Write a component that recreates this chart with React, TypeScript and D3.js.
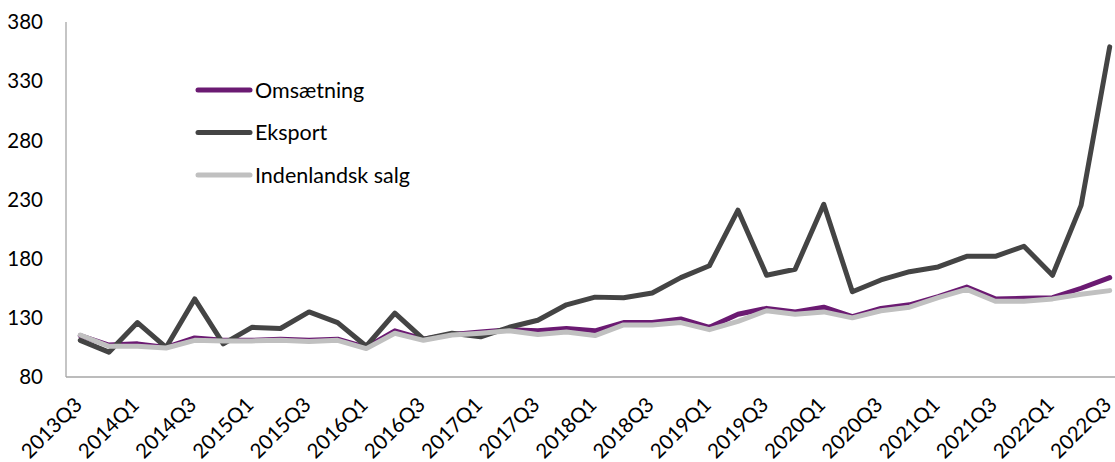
import React from "react";
import * as d3 from "d3";

const quarters: string[] = [
  "2013Q3","2013Q4","2014Q1","2014Q2","2014Q3","2014Q4","2015Q1","2015Q2","2015Q3","2015Q4",
  "2016Q1","2016Q2","2016Q3","2016Q4","2017Q1","2017Q2","2017Q3","2017Q4","2018Q1","2018Q2",
  "2018Q3","2018Q4","2019Q1","2019Q2","2019Q3","2019Q4","2020Q1","2020Q2","2020Q3","2020Q4",
  "2021Q1","2021Q2","2021Q3","2021Q4","2022Q1","2022Q2","2022Q3"
];

const omsaetning: number[] = [
  115,107,108,105,113,111,111,112,111,112,
  105,119,112,116,118,120,119,121,119,126,
  126,129,122,133,138,135,139,131,138,141,
  148,156,146,146.5,147,155,164
];

const eksport: number[] = [
  111,101,126,105,146,108,122,121,135,126,
  106,134,112,117,114,122,128,141,147.5,147,
  151,164,174,221,166,171,226,152,162,169,
  173,182,182,190.5,166,225,359
];

const indenlandsk: number[] = [
  115.5,106,106,104.5,111,110.5,110.5,111,110,111,
  104,117,111,115.5,117,119,116,118,115,124,
  124,126,120,127,136,133,135,130,136,139,
  147,154,144,144,146,150,153
];

const yTicks: number[] = [80, 130, 180, 230, 280, 330, 380];

const seriesNames: string[] = ["Omsætning", "Eksport", "Indenlandsk salg"];
const seriesColors: string[] = ["#6b1a72", "#444444", "#c0c0c0"];

export default function App() {
  const W = 1115, H = 462;
  const left = 66, right = 1124, top = 22, bottom = 377;
  const font = "Lato, 'Open Sans', sans-serif";

  const x = d3.scaleBand<string>().domain(quarters).range([left, right]);
  const cx = (q: string) => (x(q) as number) + x.bandwidth() / 2;
  const y = d3.scaleLinear().domain([80, 380]).range([bottom, top]);

  const line = d3.line<number>()
    .x((_, i) => cx(quarters[i]))
    .y((d) => y(d));

  const allSeries = [omsaetning, eksport, indenlandsk];
  const labelQuarters = quarters.filter((_, i) => i % 2 === 0);

  return (
    <svg width={W} height={H} style={{ position: "absolute", left: 0, top: 0, background: "#fff" }}>
      <line x1={left} x2={left} y1={top} y2={bottom} stroke="#a6a6a6" strokeWidth={1.3} />
      <line x1={left} x2={right} y1={bottom} y2={bottom} stroke="#a6a6a6" strokeWidth={1.3} />
      {yTicks.map((t) => (
        <text key={t} x={43} y={y(t)} dy="0.35em" textAnchor="end" fontFamily={font} fontSize={20.5} fill="#000">
          {t}
        </text>
      ))}
      {labelQuarters.map((q) => {
        const px = cx(q) + 3;
        const py = bottom + 29;
        return (
          <text key={q} x={px} y={py} textAnchor="end" fontFamily={font} fontSize={20.5} fill="#000"
            transform={`rotate(-45 ${px} ${py})`}>
            {q}
          </text>
        );
      })}
      {allSeries.map((s, k) => (
        <path key={k} d={line(s) || ""} fill="none" stroke={seriesColors[k]} strokeWidth={5}
          strokeLinejoin="round" strokeLinecap="round" />
      ))}
      {seriesNames.map((n, k) => {
        const ly = 90 + k * 42.5;
        return (
          <g key={n}>
            <line x1={198} x2={250} y1={ly} y2={ly} stroke={seriesColors[k]} strokeWidth={5} strokeLinecap="round" />
            <text x={255} y={ly} dy="0.35em" fontFamily={font} fontSize={21.5} fill="#000">{n}</text>
          </g>
        );
      })}
    </svg>
  );
}
